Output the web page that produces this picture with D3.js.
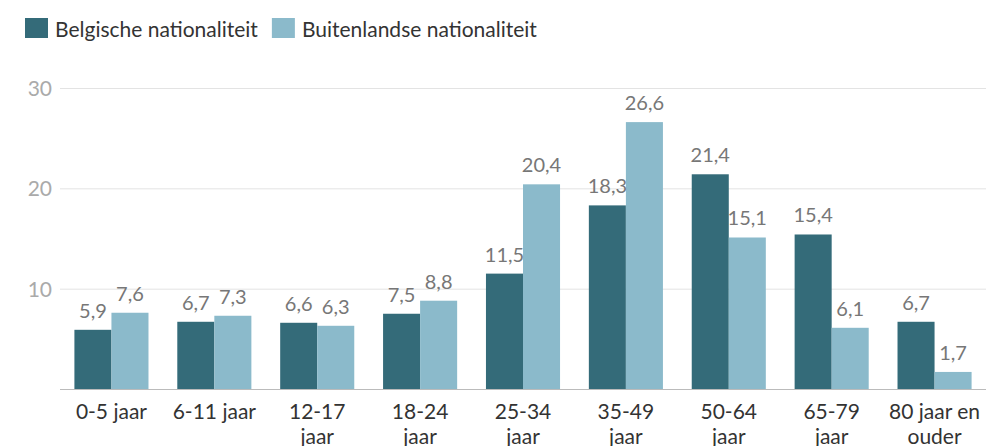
<!DOCTYPE html>
<html>
<head>
	<meta charset="utf-8">
	<title>Nationaliteit per leeftijd</title>
	<script src="https://d3js.org/d3.v7.min.js"></script>
	<style>
		body { margin: 0; background: #fff; }
		text { font-family: Lato, "Open Sans", sans-serif; }
	</style>
</head>
<body>
	<script>
		var width = 986, height = 446;

		var categories = ["0-5 jaar", "6-11 jaar", "12-17 jaar", "18-24 jaar", "25-34 jaar", "35-49 jaar", "50-64 jaar", "65-79 jaar", "80 jaar en ouder"];
		var seriesNames = ["Belgische nationaliteit", "Buitenlandse nationaliteit"];
		var belgisch = [5.9, 6.7, 6.6, 7.5, 11.5, 18.3, 21.4, 15.4, 6.7];
		var buitenlands = [7.6, 7.3, 6.3, 8.8, 20.4, 26.6, 15.1, 6.1, 1.7];
		var yTicks = [10, 20, 30];
		var colors = ["#346b79", "#8bbacb"];

		var svg = d3.select("body").append("svg").attr("width", width).attr("height", height);

		var x = d3.scaleBand().domain(categories).range([60, 986]).paddingInner(0.28).paddingOuter(0.14);
		var x1 = d3.scaleBand().domain([0, 1]).range([0, x.bandwidth()]);
		var y = d3.scaleLinear().domain([0, 30]).range([389, 88]);

		// gridlines + tick labels
		var grid = svg.append("g");
		grid.selectAll("line").data(yTicks).enter().append("line")
			.attr("x1", 60).attr("x2", width)
			.attr("y1", function(d){ return y(d) + 0.5; }).attr("y2", function(d){ return y(d) + 0.5; })
			.attr("stroke", "#e3e3e3").attr("stroke-width", 1);
		grid.selectAll("text").data(yTicks).enter().append("text")
			.attr("x", 52).attr("y", function(d){ return y(d) + 8; })
			.attr("text-anchor", "end").attr("fill", "#aaaaaa").attr("font-size", 21)
			.text(function(d){ return d; });

		var rows = categories.map(function(c, i){ return {cat: c, vals: [belgisch[i], buitenlands[i]]}; });

		var groups = svg.append("g").selectAll("g").data(rows).enter().append("g")
			.attr("transform", function(d){ return "translate(" + x(d.cat) + ",0)"; });

		groups.selectAll("rect").data(function(d){ return d.vals; }).enter().append("rect")
			.attr("x", function(d, i){ return x1(i); })
			.attr("width", x1.bandwidth())
			.attr("y", function(d){ return y(d); })
			.attr("height", function(d){ return y(0) - y(d); })
			.attr("fill", function(d, i){ return colors[i]; });

		groups.selectAll("text").data(function(d){ return d.vals; }).enter().append("text")
			.attr("x", function(d, i){ return x1(i) + x1.bandwidth() / 2; })
			.attr("y", function(d){ return y(d) - 12; })
			.attr("text-anchor", "middle").attr("fill", "#777777").attr("font-size", 20)
			.text(function(d){ return String(d).replace(".", ","); });

		// baseline
		svg.append("line").attr("x1", 60).attr("x2", width).attr("y1", y(0) + 0.5).attr("y2", y(0) + 0.5)
			.attr("stroke", "#bbbbbb").attr("stroke-width", 1);

		// category labels: long ones get their last word on a second line
		var labels = svg.append("g").selectAll("text").data(categories).enter().append("text")
			.attr("x", function(d){ return x(d) + x.bandwidth() / 2; })
			.attr("y", 419)
			.attr("text-anchor", "middle").attr("fill", "#333333").attr("font-size", 21);
		labels.each(function(d){
			var t = d3.select(this).text(d), lines = [d];
			if (this.getComputedTextLength() > 85) {
				var k = d.lastIndexOf(" ");
				lines = [d.slice(0, k), d.slice(k + 1)];
			}
			t.text(null);
			lines.forEach(function(l, k){
				t.append("tspan").attr("x", x(d) + x.bandwidth() / 2).attr("dy", k ? 25 : 0).text(l);
			});
		});

		// legend
		var legend = svg.append("g");
		var lx = 25;
		seriesNames.forEach(function(n, i){
			legend.append("rect").attr("x", lx).attr("y", 18).attr("width", 23).attr("height", 20).attr("fill", colors[i]);
			var t = legend.append("text").attr("x", lx + 30).attr("y", 37).attr("fill", "#333333").attr("font-size", 21).text(n);
			lx = lx + 30 + t.node().getComputedTextLength() + 14;
		});
	</script>
</body>
</html>
